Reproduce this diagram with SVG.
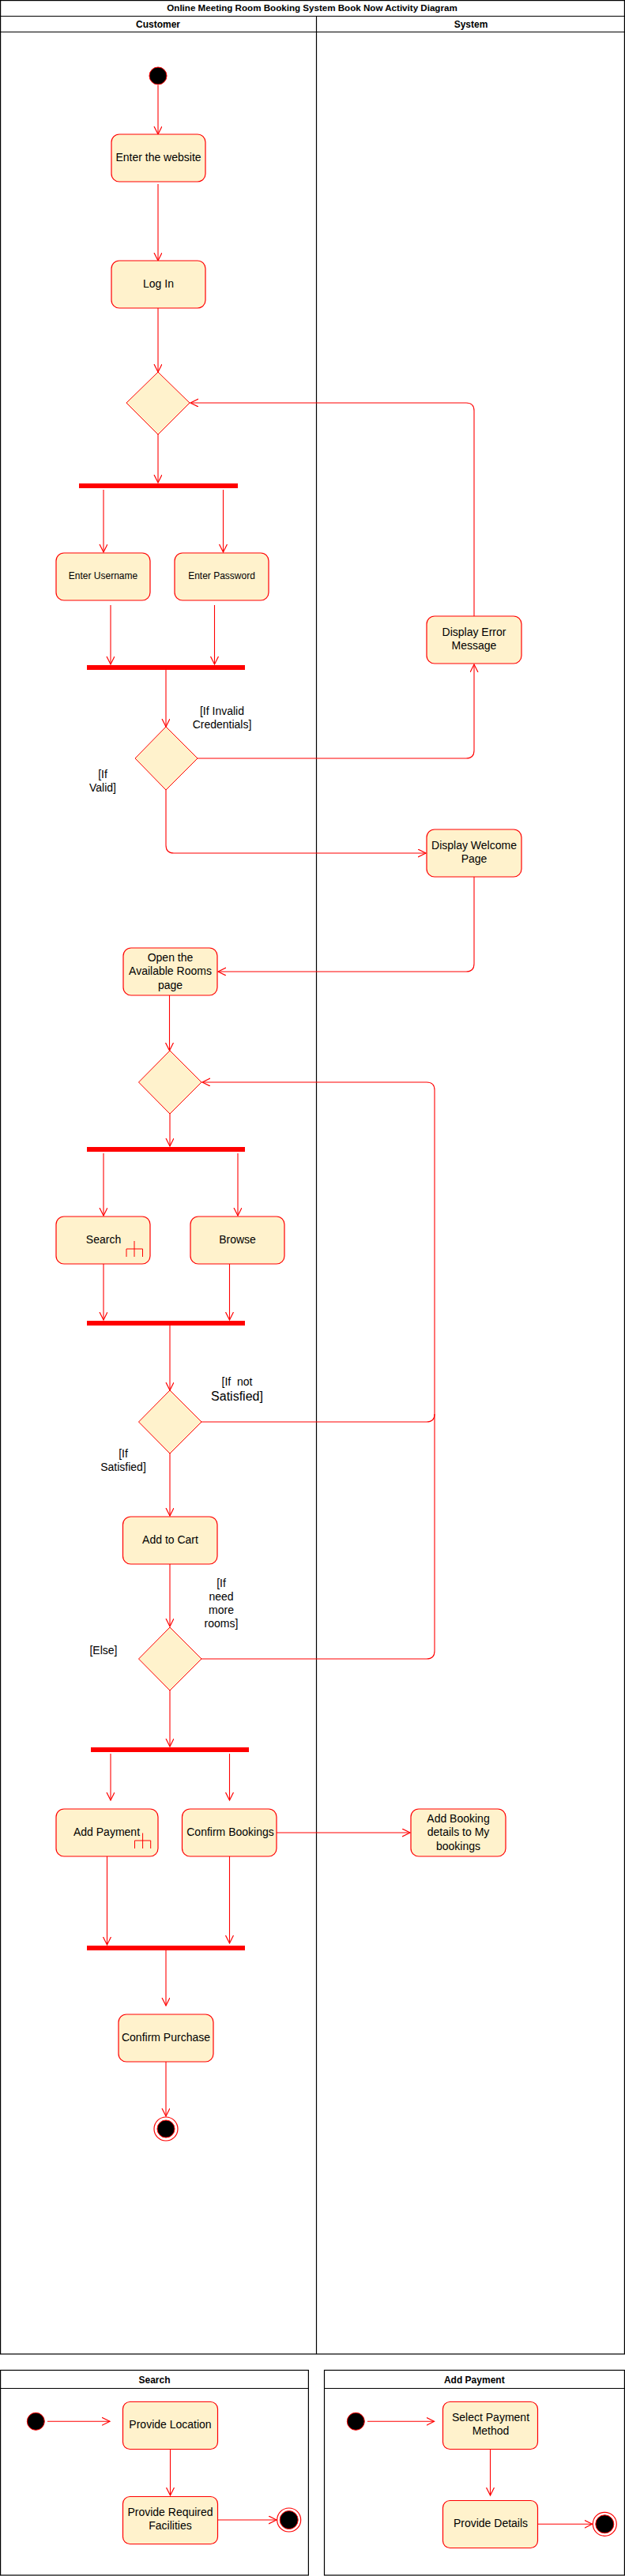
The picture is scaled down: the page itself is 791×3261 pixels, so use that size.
<svg xmlns="http://www.w3.org/2000/svg" width="791" height="3261" viewBox="0 0 791 3261">
<style>
text{font-family:"Liberation Sans",Arial,sans-serif;fill:#000;text-anchor:middle}
.t14{font-size:14px}
.t12{font-size:12px}
.t16{font-size:16px}
.hd{font-size:12px;font-weight:bold}
.ttl{font-size:11.6px;font-weight:bold}
.frame{fill:none;stroke:#000;stroke-width:1.2}
.act{fill:#fff2cc;stroke:#ff0000;stroke-width:1.2}
.dec{fill:#fff2cc;stroke:#ff0000;stroke-width:1}
.bar{fill:#ff0000;stroke:none}
.start{fill:#000;stroke:#ff0000;stroke-width:1}
.endo{fill:#fff;stroke:#ff0000;stroke-width:1.2}
.endi{fill:#000;stroke:#ff0000;stroke-width:1}
.rake{fill:none;stroke:#ff0000;stroke-width:1}
.c{fill:none;stroke:#ff0000;stroke-width:1.1;marker-end:url(#arr)}
.cn{fill:none;stroke:#ff0000;stroke-width:1.1}
</style>
<defs>
<marker id="arr" markerUnits="userSpaceOnUse" markerWidth="12" markerHeight="12" refX="10" refY="5" orient="auto" viewBox="0 0 12 12">
<path d="M0,0 L10,5 L0,10" fill="none" stroke="#ff0000" stroke-width="1.2"/>
</marker>
</defs>
<rect width="791" height="3261" fill="#fff"/>

<g id="frame-main">
<rect class="frame" x="0.6" y="0.6" width="789.8" height="2979.4"/>
<line class="frame" x1="0.6" y1="20.5" x2="790.4" y2="20.5"/>
<line class="frame" x1="0.6" y1="40.5" x2="790.4" y2="40.5"/>
<line class="frame" x1="400.5" y1="20.5" x2="400.5" y2="2980"/>
<text class="ttl" x="395" y="14">Online Meeting Room Booking System Book Now Activity Diagram</text>
<text class="hd" x="200" y="34.5">Customer</text>
<text class="hd" x="596" y="34.5">System</text>
</g>

<g id="connectors">
<path class="c" d="M200,108 V170"/>
<path class="c" d="M200,233 V330"/>
<path class="c" d="M200,390 V471"/>
<path class="c" d="M200,550 V611"/>
<path class="c" d="M131,620 V699"/>
<path class="c" d="M282.5,620 V699"/>
<path class="c" d="M140,766 V841"/>
<path class="c" d="M271.5,766 V841"/>
<path class="c" d="M210,848 V920"/>
<path class="c" d="M250,960 H590 Q600,960 600,950 V841"/>
<path class="c" d="M210,1000 V1070 Q210,1080 220,1080 H539"/>
<path class="c" d="M600,1110 V1220 Q600,1230 590,1230 H276"/>
<path class="c" d="M600,780 V520 Q600,510 590,510 H241"/>
<path class="c" d="M214.5,1260 V1330"/>
<path class="c" d="M215,1410 V1451"/>
<path class="c" d="M131,1460 V1539"/>
<path class="c" d="M301,1460 V1539"/>
<path class="c" d="M131,1600 V1671"/>
<path class="c" d="M290.5,1600 V1671"/>
<path class="c" d="M215,1678 V1760"/>
<path class="c" d="M255,1800 H540 Q550,1800 550,1790 V1380 Q550,1370 540,1370 H256"/>
<path class="cn" d="M255,2100 H540 Q550,2100 550,2090 V1790"/>
<path class="c" d="M215,1840 V1919"/>
<path class="c" d="M215,1980 V2059"/>
<path class="c" d="M215,2140 V2211"/>
<path class="c" d="M140,2220 V2279"/>
<path class="c" d="M290.5,2220 V2279"/>
<path class="c" d="M350,2320 H519"/>
<path class="c" d="M135.5,2350 V2462"/>
<path class="c" d="M290.5,2350 V2460"/>
<path class="c" d="M210,2469 V2539"/>
<path class="c" d="M210,2610 V2679"/>
<path class="c" d="M60,3065.3 H139"/>
<path class="c" d="M215.5,3100.5 V3159"/>
<path class="c" d="M275.5,3190 H350"/>
<path class="c" d="M465,3065.3 H549.5"/>
<path class="c" d="M620.5,3100.5 V3159"/>
<path class="c" d="M680.5,3195.3 H749.5"/>
</g>

<g id="guards">
<text class="t14" x="281" y="905">[If Invalid</text>
<text class="t14" x="281" y="922">Credentials]</text>
<text class="t14" x="130" y="985">[If</text>
<text class="t14" x="130" y="1002">Valid]</text>
<text class="t14" x="300" y="1754" xml:space="preserve">[If  not</text>
<text class="t16" x="300" y="1773">Satisfied]</text>
<text class="t14" x="156" y="1845">[If</text>
<text class="t14" x="156" y="1862">Satisfied]</text>
<text class="t14" x="280" y="2009">[If</text>
<text class="t14" x="280" y="2026">need</text>
<text class="t14" x="280" y="2043">more</text>
<text class="t14" x="280" y="2060">rooms]</text>
<text class="t14" x="131" y="2094">[Else]</text>
</g>

<g id="start"><circle class="start" cx="200" cy="96" r="11"/></g>
<g id="enter-website"><rect class="act" x="141" y="170" width="119" height="60" rx="10"/><text class="t14" x="200.5" y="204">Enter the website</text></g>
<g id="log-in"><rect class="act" x="141" y="330" width="119" height="60" rx="10"/><text class="t14" x="200.5" y="364">Log In</text></g>
<g id="decision-1"><polygon class="dec" points="200,471 240,510 200,550 160,510"/></g>
<g id="fork-1"><rect class="bar" x="100" y="612" width="201" height="6"/></g>
<g id="enter-username"><rect class="act" x="71" y="700" width="119" height="60" rx="10"/><text class="t12" x="130.5" y="733">Enter Username</text></g>
<g id="enter-password"><rect class="act" x="221" y="700" width="119" height="60" rx="10"/><text class="t12" x="280.5" y="733">Enter Password</text></g>
<g id="join-1"><rect class="bar" x="110" y="842" width="200" height="6"/></g>
<g id="decision-2"><polygon class="dec" points="210,920 250,960 210,1000 171,960"/></g>
<g id="display-error"><rect class="act" x="540" y="780" width="120" height="60" rx="10"/><text class="t14" x="600" y="805">Display Error</text><text class="t14" x="600" y="822">Message</text></g>
<g id="display-welcome"><rect class="act" x="540" y="1050" width="120" height="60" rx="10"/><text class="t14" x="600" y="1075">Display Welcome</text><text class="t14" x="600" y="1092">Page</text></g>
<g id="open-rooms"><rect class="act" x="156" y="1200" width="119" height="60" rx="10"/><text class="t14" x="215.5" y="1217">Open the</text><text class="t14" x="215.5" y="1234">Available Rooms</text><text class="t14" x="215.5" y="1251.5">page</text></g>
<g id="decision-3"><polygon class="dec" points="215,1330 255,1370 215,1410 175.5,1370"/></g>
<g id="fork-2"><rect class="bar" x="110" y="1452" width="200" height="6"/></g>
<g id="search"><rect class="act" x="71" y="1540" width="119" height="60" rx="10"/><text class="t14" x="131" y="1574">Search</text><path class="rake" d="M170,1571 V1591 M160,1591 V1581 H180.5 V1591"/></g>
<g id="browse"><rect class="act" x="241" y="1540" width="119" height="60" rx="10"/><text class="t14" x="300.5" y="1574">Browse</text></g>
<g id="join-2"><rect class="bar" x="110" y="1672" width="200" height="6"/></g>
<g id="decision-4"><polygon class="dec" points="215,1760 255,1800 215,1840 175.5,1800"/></g>
<g id="add-to-cart"><rect class="act" x="155.5" y="1920" width="119.5" height="60" rx="10"/><text class="t14" x="215.5" y="1954">Add to Cart</text></g>
<g id="decision-5"><polygon class="dec" points="215,2060 255,2100 215,2140 175.5,2100"/></g>
<g id="fork-3"><rect class="bar" x="115" y="2212" width="200" height="6"/></g>
<g id="add-payment"><rect class="act" x="71" y="2290" width="129" height="60" rx="10"/><text class="t14" x="135" y="2324">Add Payment</text><path class="rake" d="M180.6,2320.5 V2340 M170.5,2340 V2330 H190.7 V2340"/></g>
<g id="confirm-bookings"><rect class="act" x="230.5" y="2290" width="119.5" height="60" rx="10"/><text class="t14" x="291.5" y="2324">Confirm Bookings</text></g>
<g id="add-booking-details"><rect class="act" x="520" y="2290" width="120" height="60" rx="10"/><text class="t14" x="580" y="2307">Add Booking</text><text class="t14" x="580" y="2324">details to My</text><text class="t14" x="580" y="2341.5">bookings</text></g>
<g id="join-3"><rect class="bar" x="110" y="2463" width="200" height="6"/></g>
<g id="confirm-purchase"><rect class="act" x="150" y="2550" width="120" height="60" rx="10"/><text class="t14" x="210" y="2584">Confirm Purchase</text></g>
<g id="end"><circle class="endo" cx="210" cy="2695" r="15"/><circle class="endi" cx="210" cy="2695" r="11"/></g>

<g id="frame-search">
<rect class="frame" x="0.6" y="3000.5" width="389.8" height="259.5"/>
<line class="frame" x1="0.6" y1="3023.5" x2="390.4" y2="3023.5"/>
<text class="hd" x="195.5" y="3017">Search</text>
</g>
<g id="search-start"><circle class="start" cx="45.3" cy="3065.3" r="11"/></g>
<g id="provide-location"><rect class="act" x="155.5" y="3040.5" width="120" height="60" rx="9"/><text class="t14" x="215.5" y="3074">Provide Location</text></g>
<g id="provide-facilities"><rect class="act" x="155.5" y="3160.5" width="120" height="60" rx="9"/><text class="t14" x="215.5" y="3185">Provide Required</text><text class="t14" x="215.5" y="3202">Facilities</text></g>
<g id="search-end"><circle class="endo" cx="365.7" cy="3190" r="15"/><circle class="endi" cx="365.7" cy="3190" r="11.5"/></g>

<g id="frame-payment">
<rect class="frame" x="410.5" y="3000.5" width="379.9" height="259.5"/>
<line class="frame" x1="410.5" y1="3023.5" x2="790.4" y2="3023.5"/>
<text class="hd" x="600.3" y="3017">Add Payment</text>
</g>
<g id="payment-start"><circle class="start" cx="450.3" cy="3065.3" r="11"/></g>
<g id="select-payment"><rect class="act" x="560.5" y="3040.5" width="120" height="60" rx="9"/><text class="t14" x="621" y="3065">Select Payment</text><text class="t14" x="621" y="3082">Method</text></g>
<g id="provide-details"><rect class="act" x="560.5" y="3165.5" width="120" height="60" rx="9"/><text class="t14" x="621" y="3199">Provide Details</text></g>
<g id="payment-end"><circle class="endo" cx="765.3" cy="3195.3" r="15"/><circle class="endi" cx="765.3" cy="3195.3" r="11.5"/></g>
</svg>
